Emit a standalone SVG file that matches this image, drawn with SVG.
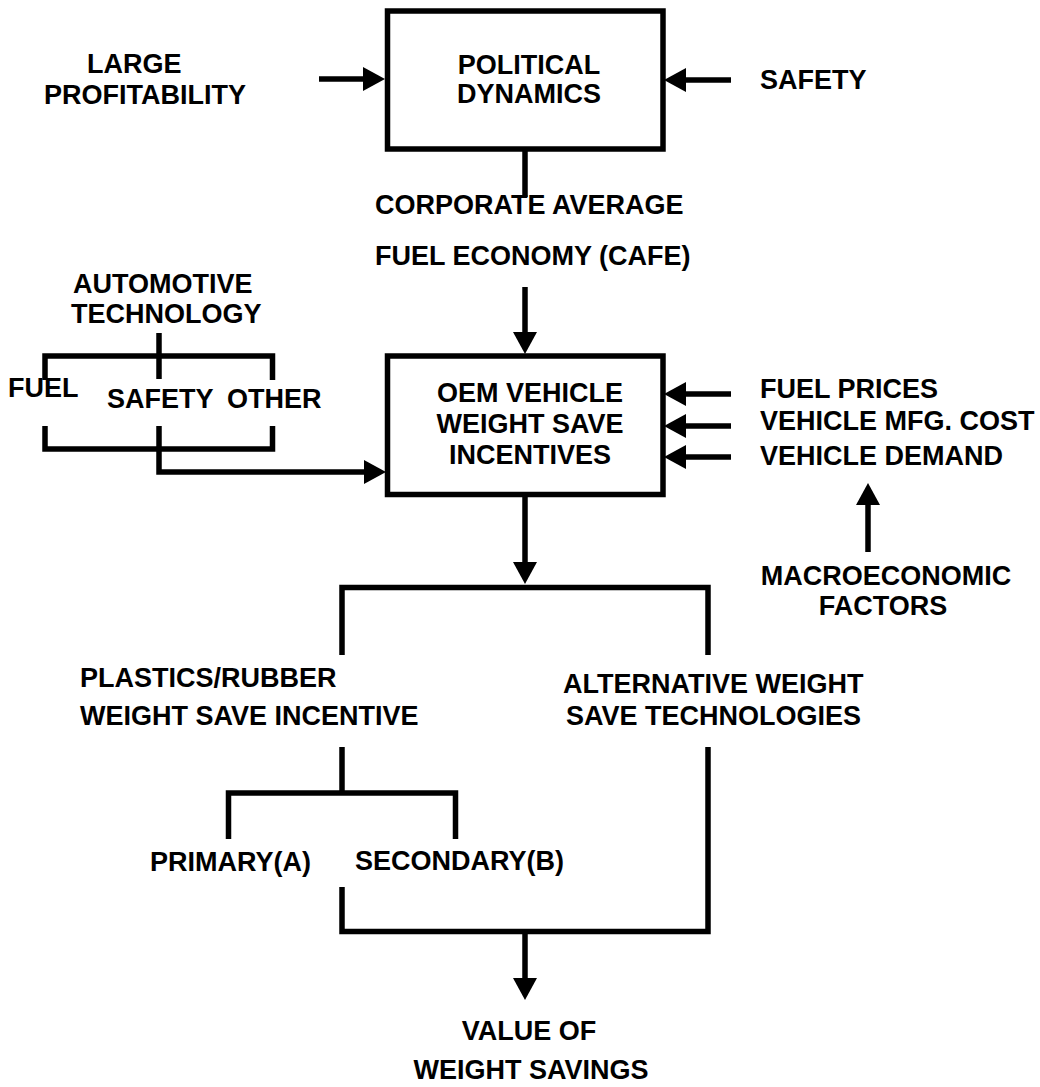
<svg xmlns="http://www.w3.org/2000/svg" width="1040" height="1087" viewBox="0 0 1040 1087">
<style>
  .t { font-family: "Liberation Sans", Arial, sans-serif; font-weight: bold; font-size: 27px; fill: #000; }
  .c { text-anchor: middle; }
  .box { fill: none; stroke: #000; stroke-width: 5.5; }
  .ln { fill: none; stroke: #000; stroke-width: 5.5; stroke-linejoin: miter; stroke-linecap: butt; }
</style>
<defs>
  <marker id="ah" markerUnits="userSpaceOnUse" markerWidth="22" markerHeight="24" refX="0" refY="12" orient="auto" viewBox="0 0 22 24">
    <path d="M0,0 L22,12 L0,24 z" fill="#000"/>
  </marker>
</defs>
<rect width="1040" height="1087" fill="#fff"/>

<g id="connectors">
  <line class="ln" x1="319" y1="79" x2="363" y2="79" marker-end="url(#ah)"/>
  <line class="ln" x1="731" y1="80" x2="686" y2="80" marker-end="url(#ah)"/>
  <line class="ln" x1="525" y1="149" x2="525" y2="197"/>
  <line class="ln" x1="525" y1="287" x2="525" y2="332" marker-end="url(#ah)"/>
  <line class="ln" x1="731" y1="394" x2="686" y2="394" marker-end="url(#ah)"/>
  <line class="ln" x1="731" y1="426" x2="686" y2="426" marker-end="url(#ah)"/>
  <line class="ln" x1="731" y1="457" x2="686" y2="457" marker-end="url(#ah)"/>
  <line class="ln" x1="868" y1="552" x2="868" y2="505" marker-end="url(#ah)"/>
  <line class="ln" x1="159" y1="333" x2="159" y2="379"/>
  <polyline class="ln" points="45,380 45,356 272.5,356 272.5,380"/>
  <polyline class="ln" points="45,426 45,449 272.5,449 272.5,426"/>
  <polyline class="ln" points="159,426 159,472 364,472" marker-end="url(#ah)"/>
  <line class="ln" x1="525" y1="497" x2="525" y2="562" marker-end="url(#ah)"/>
  <polyline class="ln" points="342,655 342,587.5 708,587.5 708,655"/>
  <line class="ln" x1="342" y1="747" x2="342" y2="793"/>
  <polyline class="ln" points="228.5,839 228.5,793 455.5,793 455.5,839"/>
  <polyline class="ln" points="708,747 708,931.5 342,931.5 342,887"/>
  <line class="ln" x1="525" y1="931.5" x2="525" y2="978" marker-end="url(#ah)"/>
</g>

<g id="political-dynamics">
  <rect class="box" x="387.5" y="11" width="275.5" height="138"/>
  <text class="t c" x="529" y="74">POLITICAL</text>
  <text class="t c" x="529" y="103">DYNAMICS</text>
</g>
<g id="large-profitability">
  <text class="t" x="87" y="73">LARGE</text>
  <text class="t" x="44" y="104">PROFITABILITY</text>
</g>
<g id="safety-top">
  <text class="t" x="760" y="89">SAFETY</text>
</g>
<g id="cafe">
  <text class="t" x="375" y="214">CORPORATE AVERAGE</text>
  <text class="t" x="375" y="265">FUEL ECONOMY (CAFE)</text>
</g>
<g id="automotive-technology">
  <text class="t" x="73" y="293">AUTOMOTIVE</text>
  <text class="t" x="71" y="323">TECHNOLOGY</text>
  <text class="t" x="8" y="397">FUEL</text>
  <text class="t" x="107" y="408">SAFETY</text>
  <text class="t" x="227" y="408">OTHER</text>
</g>
<g id="oem-incentives">
  <rect class="box" x="387.5" y="356" width="275.5" height="138.5"/>
  <text class="t c" x="530" y="402">OEM VEHICLE</text>
  <text class="t c" x="530" y="433">WEIGHT SAVE</text>
  <text class="t c" x="530" y="464">INCENTIVES</text>
</g>
<g id="market-factors">
  <text class="t" x="760" y="398">FUEL PRICES</text>
  <text class="t" x="760" y="430">VEHICLE MFG. COST</text>
  <text class="t" x="760" y="465">VEHICLE DEMAND</text>
</g>
<g id="macroeconomic">
  <text class="t c" x="886" y="585">MACROECONOMIC</text>
  <text class="t c" x="883" y="615">FACTORS</text>
</g>
<g id="plastics-rubber">
  <text class="t" x="80" y="687">PLASTICS/RUBBER</text>
  <text class="t" x="80" y="725">WEIGHT SAVE INCENTIVE</text>
</g>
<g id="alternative">
  <text class="t" x="563" y="693">ALTERNATIVE WEIGHT</text>
  <text class="t" x="566" y="725">SAVE TECHNOLOGIES</text>
</g>
<g id="primary">
  <text class="t" x="150" y="871">PRIMARY(A)</text>
</g>
<g id="secondary">
  <text class="t" x="355" y="870">SECONDARY(B)</text>
</g>
<g id="value">
  <text class="t c" x="529" y="1040">VALUE OF</text>
  <text class="t c" x="531" y="1079">WEIGHT SAVINGS</text>
</g>
</svg>
